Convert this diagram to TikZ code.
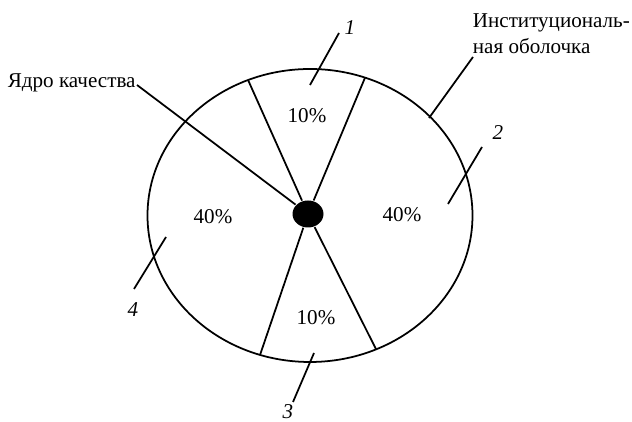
\documentclass[tikz,border=0pt,12pt]{standalone}
\usepackage{fontspec}
\setmainfont{Liberation Serif}
\usetikzlibrary{calc,shapes.geometric}

\begin{document}
\begin{tikzpicture}[line width=1pt,
  txt/.style={inner sep=0pt},
  num/.style={inner sep=0pt,font=\itshape},
  core/.style={ellipse,fill,inner sep=0pt,minimum width=0.62cm,minimum height=0.54cm}]
\useasboundingbox (0,0) rectangle (12.64,8.44);

% shell and core
\coordinate (c) at (6.20,4.13);
\draw (c) ellipse (3.25 and 2.93);
\node[core] (core) at (6.16,4.16) {};

\coordinate (tl) at ($(c)+(112.4:3.25 and 2.93)$);
\coordinate (tr) at ($(c)+(70.2:3.25 and 2.93)$);
\coordinate (bl) at ($(c)+(252.1:3.25 and 2.93)$);
\coordinate (br) at ($(c)+(294:3.25 and 2.93)$);
\draw (core) -- (tl);
\draw (core) -- (tr);
\draw (core) -- (bl);
\draw (core) -- (br);

\node[txt] (p1) at (6.14,6.12) {10\%};
\node[txt] (p4) at (4.26,4.10) {40\%};
\node[txt] (p2) at (8.04,4.14) {40\%};
\node[txt] (p3) at (6.32,2.08) {10\%};

% labels
\node[txt,anchor=base west] (yk) at (0.14,6.68) {Ядро качества};
\coordinate (yka) at (2.74,6.74);
\draw (yka) -- (core);

\node[txt,anchor=north west,align=left] (io) at (9.44,8.18) {Институциональ-\\ная оболочка};
\coordinate (ioa) at (9.46,7.30); \coordinate (iob) at (8.58,6.08);
\draw (ioa) -- (iob);

\node[num] (n1) at (7.00,7.88) {1};
\coordinate (n1a) at (6.78,7.78); \coordinate (n1b) at (6.20,6.74);
\draw (n1a) -- (n1b);

\node[num] (n2) at (9.96,5.78) {2};
\coordinate (n2a) at (9.64,5.50); \coordinate (n2b) at (8.96,4.36);
\draw (n2a) -- (n2b);

\node[num] (n3) at (5.76,0.21) {3};
\coordinate (n3a) at (6.28,1.38); \coordinate (n3b) at (5.86,0.40);
\draw (n3a) -- (n3b);

\node[num] (n4) at (2.66,2.24) {4};
\coordinate (n4a) at (3.32,3.70); \coordinate (n4b) at (2.68,2.66);
\draw (n4a) -- (n4b);
\end{tikzpicture}
\end{document}
